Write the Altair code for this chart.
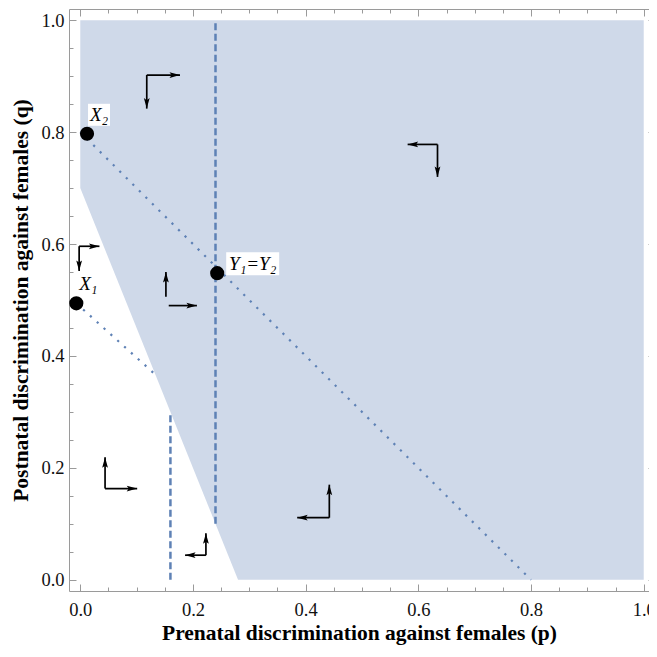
import altair as alt
import pandas as pd

# ---------------- data ----------------
# shaded region: lower boundary (q_low) and upper boundary (q_high) along p
region_p = [0.0, 0.28, 1.0]
region_q_low = [0.7, 0.0, 0.0]
region_q_high = [1.0, 1.0, 1.0]

# vertical dashed lines
dashed_p = [0.16, 0.24]
dashed_q0 = [0.0, 0.1]
dashed_q1 = [0.3, 1.0]

# dotted lines
dotted_p0 = [0.0, -0.007]
dotted_q0 = [0.8, 0.494]
dotted_p1 = [0.8, 0.133]
dotted_q1 = [0.0, 0.367]

# labelled points
point_label = ["X\u2081", "X\u2082", "Y\u2081=Y\u2082"]
point_p = [-0.007, 0.012, 0.243]
point_q = [0.494, 0.797, 0.548]

# direction arrows (start -> tip)
arrow_p0 = [0.118, 0.118, -0.002, -0.002, 0.152, 0.157, 0.634, 0.634, 0.044, 0.044, 0.223, 0.223, 0.442, 0.442]
arrow_q0 = [0.902, 0.902, 0.596, 0.596, 0.506, 0.490, 0.778, 0.778, 0.163, 0.163, 0.044, 0.044, 0.111, 0.111]
arrow_p1 = [0.177, 0.118, 0.034, -0.002, 0.152, 0.207, 0.581, 0.634, 0.044, 0.101, 0.223, 0.186, 0.442, 0.385]
arrow_q1 = [0.902, 0.842, 0.596, 0.552, 0.550, 0.490, 0.778, 0.720, 0.219, 0.163, 0.083, 0.044, 0.170, 0.111]

major_ticks = [0.0, 0.2, 0.4, 0.6, 0.8, 1.0]
minor_ticks = [0.05, 0.1, 0.15, 0.25, 0.3, 0.35, 0.45, 0.5, 0.55, 0.65, 0.7, 0.75, 0.85, 0.9, 0.95]

x_title = "Prenatal discrimination against females (p)"
y_title = "Postnatal discrimination against females (q)"

# ---------------- tables ----------------
region_df = pd.DataFrame({"p": region_p, "q": region_q_low, "q2": region_q_high})
dashed_df = pd.DataFrame({"p": dashed_p, "q": dashed_q0, "q2": dashed_q1})
dotted_df = pd.DataFrame({"p": dotted_p0, "q": dotted_q0, "p2": dotted_p1, "q2": dotted_q1})
points_df = pd.DataFrame({"p": point_p, "q": point_q, "label": point_label})
arrows_df = pd.DataFrame({"p": arrow_p0, "q": arrow_q0, "p2": arrow_p1, "q2": arrow_q1})


def head_angle(r):
    dx = r["p2"] - r["p"]
    dy = r["q2"] - r["q"]
    if abs(dx) > abs(dy):
        return 90 if dx > 0 else 270
    return 0 if dy > 0 else 180


heads_df = pd.DataFrame({
    "p": arrows_df["p2"],
    "q": arrows_df["q2"],
    "angle": arrows_df.apply(head_angle, axis=1),
})

# ---------------- style ----------------
SERIF = "Liberation Serif"
LINE_BLUE = "#5e81b5"
FRAME = "#9a9a9a"
XDOM = alt.Scale(domain=[-0.02, 1.02], nice=False, zero=False)
YDOM = alt.Scale(domain=[-0.02, 1.02], nice=False, zero=False)

W, H = 586, 582
common = dict(grid=False, domain=False, tickColor=FRAME, tickWidth=1)

ax_bottom = alt.Axis(orient="bottom", values=major_ticks, format=".1f", offset=-7, tickSize=7,
                     labelPadding=9, labelFont=SERIF, labelFontSize=18.5, labelColor="#111",
                     labelFlush=False, labelOverlap=False,
                     title=x_title, titleFont=SERIF, titleFontWeight="bold", titleFontSize=21.5,
                     titleColor="#000", titleX=W / 2 - 3, titleY=49, titleBaseline="middle",
                     titleAlign="center", **common)
ax_left = alt.Axis(orient="left", values=major_ticks, format=".1f", offset=-7, tickSize=7,
                   labelPadding=5, labelFont=SERIF, labelFontSize=18.5, labelColor="#111",
                   labelFlush=False, labelOverlap=False,
                   title=y_title, titleFont=SERIF, titleFontWeight="bold", titleFontSize=21.5,
                   titleColor="#000", titleX=-55, titleY=H / 2, titleAngle=270,
                   titleBaseline="middle", titleAlign="center", **common)
ax_top = alt.Axis(orient="top", values=major_ticks, offset=-7, tickSize=7, labels=False, title=None, **common)
ax_right = alt.Axis(orient="right", values=major_ticks, offset=-7, tickSize=7, labels=False, title=None, **common)
ax_bottom_minor = alt.Axis(orient="bottom", values=minor_ticks, offset=-4, tickSize=4, labels=False, title=None, **common)
ax_left_minor = alt.Axis(orient="left", values=minor_ticks, offset=-4, tickSize=4, labels=False, title=None, **common)
ax_top_minor = alt.Axis(orient="top", values=minor_ticks, offset=-4, tickSize=4, labels=False, title=None, **common)
ax_right_minor = alt.Axis(orient="right", values=minor_ticks, offset=-4, tickSize=4, labels=False, title=None, **common)


def X(field="p", axis=None):
    return alt.X(f"{field}:Q", scale=XDOM, axis=axis)


def Y(field="q", axis=None):
    return alt.Y(f"{field}:Q", scale=YDOM, axis=axis)


area = alt.Chart(region_df).mark_area(color="#cfd9e9", opacity=1, interpolate="linear").encode(
    x=X(axis=ax_bottom), y=Y(axis=ax_left), y2="q2:Q")

dashed = alt.Chart(dashed_df).mark_rule(color=LINE_BLUE, strokeWidth=2.5, strokeDash=[7, 3.5]).encode(
    x=X(axis=ax_top), y=Y(axis=ax_right), y2="q2:Q")

dotted = alt.Chart(dotted_df).mark_rule(color=LINE_BLUE, strokeWidth=2.2, strokeDash=[2.2, 7]).encode(
    x=X(axis=ax_bottom_minor), y=Y(axis=ax_left_minor), x2="p2:Q", y2="q2:Q")

arrows = alt.Chart(arrows_df).mark_rule(color="black", strokeWidth=1.7).encode(
    x=X(axis=ax_top_minor), y=Y(axis=ax_right_minor), x2="p2:Q", y2="q2:Q")

HEAD = "M0,0L0.55,2L0,1.6L-0.55,2Z"
heads = alt.Chart(heads_df).mark_point(shape=HEAD, filled=True, color="black", opacity=1,
                                       size=110, strokeWidth=0).encode(
    x=X(), y=Y(), angle=alt.Angle("angle:Q", scale=None))

points = alt.Chart(points_df).mark_circle(size=200, color="black", opacity=1).encode(x=X(), y=Y())

x_labels_df = points_df.iloc[0:2]
y_labels_df = points_df.iloc[2:3]

box_x = alt.Chart(x_labels_df).mark_point(shape="square", filled=True, color="white", opacity=1,
                                          size=484, strokeWidth=0, xOffset=12, yOffset=-19).encode(x=X(), y=Y())
box_y = alt.Chart(y_labels_df).mark_point(shape="M-1,-0.434L1,-0.434L1,0.434L-1,0.434Z", filled=True,
                                          color="white", opacity=1, size=2809, strokeWidth=0,
                                          xOffset=35.5, yOffset=-9.5).encode(x=X(), y=Y())

txt_x = alt.Chart(x_labels_df).mark_text(font=SERIF, fontStyle="italic", fontSize=19, color="black",
                                         align="center", baseline="middle", dx=12, dy=-19).encode(
    x=X(), y=Y(), text="label:N")
txt_y = alt.Chart(y_labels_df).mark_text(font=SERIF, fontStyle="italic", fontSize=19, color="black",
                                         align="center", baseline="middle", dx=35.5, dy=-9.5).encode(
    x=X(), y=Y(), text="label:N")

chart = alt.layer(area, dashed, dotted, arrows, heads, points, box_x, box_y, txt_x, txt_y).resolve_axis(
    x="independent", y="independent"
).properties(
    width=W, height=H,
    autosize=alt.AutoSizeParams(type="none"),
    padding={"left": 61, "top": 1, "right": -6, "bottom": 56},
).configure_view(stroke=FRAME, strokeWidth=1).configure_axis(grid=False)

chart.save("out.html", embed_options={"renderer": "svg", "actions": False})
